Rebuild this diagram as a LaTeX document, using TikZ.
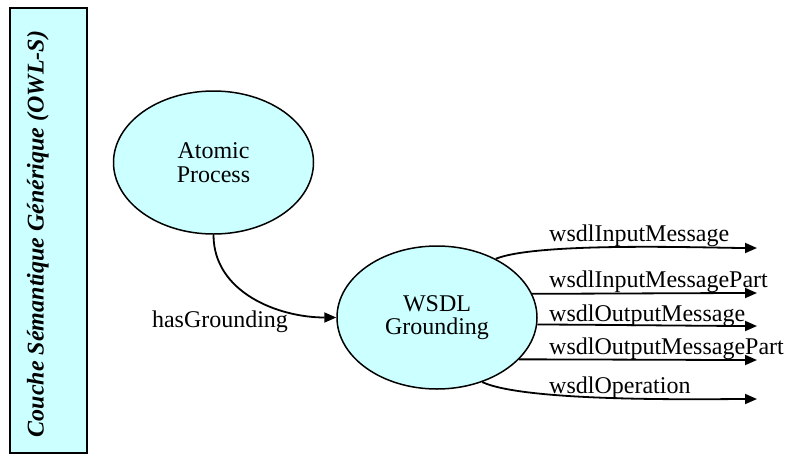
\documentclass[tikz,border=0pt]{standalone}
\usepackage{fontspec}
\setmainfont{Liberation Serif}
\usetikzlibrary{shapes.geometric,arrows.meta}
\definecolor{bleuciel}{RGB}{204,255,255}

\begin{document}
\begin{tikzpicture}[x=1pt, y=-1pt,
	font=\fontsize{24}{23.5}\selectfont,
	concept/.style={ellipse, draw, line width=1.5pt, fill=bleuciel, minimum width=200pt, minimum height=143pt, inner sep=0pt, align=center},
	fleche/.style={line width=1.8pt, -{Triangle[length=12pt,width=10pt]}}]

\useasboundingbox (0,0) rectangle (793,459);

% Couche OWL-S
\node[draw, line width=1.5pt, fill=bleuciel, minimum width=77pt, minimum height=445pt, inner sep=0pt] (couche) at (48.5,230.5) {};
\node[rotate=90, anchor=base, inner sep=0pt, font=\fontsize{24}{24}\selectfont\bfseries\itshape] (titre) at (43.5,234) {Couche Sémantique Générique (OWL-S)};

% Concepts
\node[concept] (AP) at (213.5,162.5) {Atomic\\Process};
\node[concept] (WG) at (437,317.5) {WSDL\\Grounding};

\draw[fleche] (AP.south) to[out=-90, in=180] (WG.west);
\node[anchor=base, inner sep=0pt] (hasG) at (220,327) {hasGrounding};

% Proprietes du grounding
\foreach \ang/\out/\y/\base/\prop [count=\i] in {45/22/248/241/wsdlInputMessage,
		14.6/0/293/287/wsdlInputMessagePart,
		-4.9/0/326/321/wsdlOutputMessage,
		-27.9/0/360/354/wsdlOutputMessagePart,
		-55/-25/399/393/wsdlOperation}
{
	\coordinate (p\i) at (757,\y);
	\draw[fleche] (WG.\ang) to[out=\out, in=180, looseness=0.45] (p\i);
	\node[anchor=base west, inner sep=0pt] (l\i) at (549,\base) {\prop};
}
\end{tikzpicture}
\end{document}
